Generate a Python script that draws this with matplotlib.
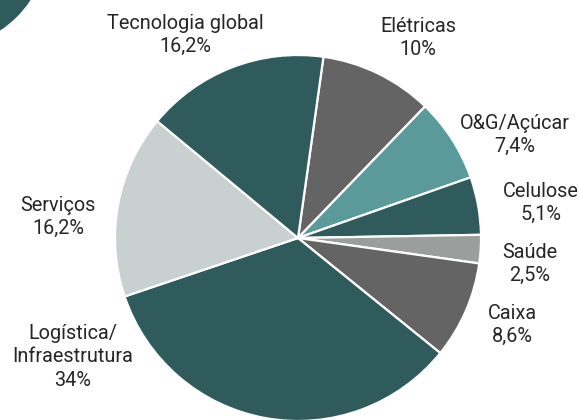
import matplotlib
matplotlib.use("Agg")
import matplotlib.pyplot as plt
from matplotlib.patches import Circle

plt.rcParams['font.family'] = ['Roboto', 'DejaVu Sans']

categories = ["Elétricas", "O&G/Açúcar", "Celulose", "Saúde", "Caixa",
              "Logística/\nInfraestrutura", "Serviços", "Tecnologia global"]
values = [10, 7.4, 5.1, 2.5, 8.6, 34, 16.2, 16.2]
value_labels = ["10%", "7,4%", "5,1%", "2,5%", "8,6%", "34%", "16,2%", "16,2%"]

colors = ["#646464", "#5b9a9b", "#305b5c", "#9a9f9d", "#646464",
          "#305b5c", "#c9d0d0", "#305b5c"]

W, H = 579, 420
cx, cy, R = 298, 238, 183
fig = plt.figure(figsize=(W / 100, H / 100), dpi=100)
ax = fig.add_axes([0, 0, 1, 1])

ax.pie(values, colors=colors, startangle=82, counterclock=False, radius=1,
       wedgeprops=dict(edgecolor="white", linewidth=1.6))
ax.set_xlim(-cx / R, (W - cx) / R)
ax.set_ylim(-(H - cy) / R, cy / R)
ax.set_aspect('equal')
ax.axis('off')

# decorative circle top-left
ax.add_patch(Circle(((-60 - cx) / R, (cy + 60) / R), 108 / R, color="#305b5c", zorder=0))

# label positions in pixels (center of text block)
label_px = [(418, 38), (515, 135), (541, 203), (530, 264), (512, 325),
            (73, 357), (58, 217), (185, 35)]
for cat, vl, (px, py) in zip(categories, value_labels, label_px):
    ax.text((px - cx) / R, (cy - py) / R, f"{cat}\n{vl}", ha="center", va="center",
            fontsize=14.3, color="#262626", linespacing=1.32)

fig.savefig("out.png", dpi=100)
